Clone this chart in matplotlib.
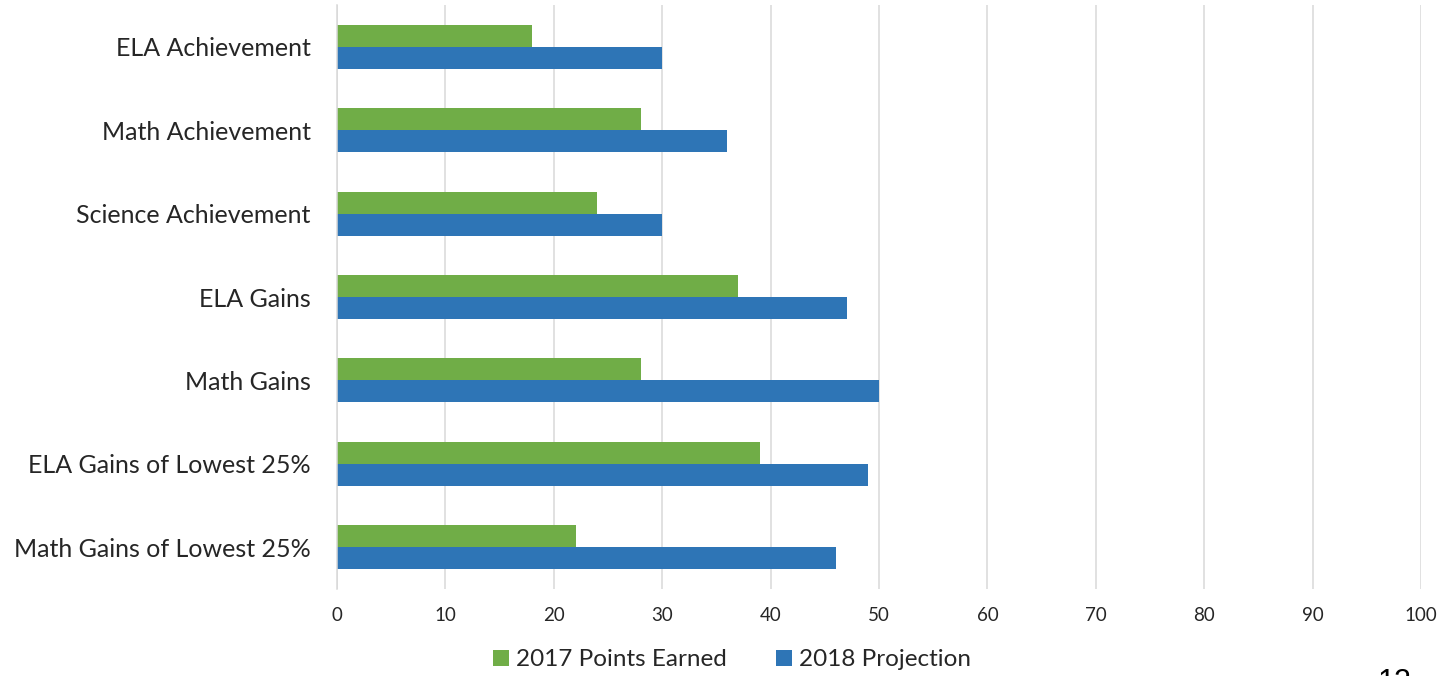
#!/usr/bin/env python3
"""Accountability points: 2017 earned vs 2018 projection, horizontal bars."""

import matplotlib

matplotlib.use("Agg")
import matplotlib.pyplot as plt
import numpy as np
from matplotlib.ticker import MultipleLocator

plt.rcParams["font.family"] = ["Lato", "DejaVu Sans"]

CATEGORIES = [
    "ELA Achievement",
    "Math Achievement",
    "Science Achievement",
    "ELA Gains",
    "Math Gains",
    "ELA Gains of Lowest 25%",
    "Math Gains of Lowest 25%",
]
POINTS_2017 = [18, 28, 24, 37, 28, 39, 22]
PROJECTION_2018 = [30, 36, 30, 47, 50, 49, 46]
SERIES_NAMES = ["2017 Points Earned", "2018 Projection"]

GREEN = "#70AD47"
BLUE = "#2E75B6"
GRID = "#D9D9D9"
TEXT = "#262626"

BAR_H = 0.264


def main():
    fig = plt.figure(figsize=(14.41, 6.76), dpi=100)
    ax = fig.add_axes([0.2339, 0.1287, 0.7523, 0.8639])

    y = np.arange(len(CATEGORIES))
    ax.barh(y - BAR_H / 2, POINTS_2017, height=BAR_H, color=GREEN,
            label=SERIES_NAMES[0], zorder=3)
    ax.barh(y + BAR_H / 2, PROJECTION_2018, height=BAR_H, color=BLUE,
            label=SERIES_NAMES[1], zorder=3)

    ax.set_ylim(len(CATEGORIES) - 0.5, -0.5)
    ax.set_xlim(0, 100)
    ax.set_yticks(y)
    ax.set_yticklabels(CATEGORIES, fontsize=18, color=TEXT)
    ax.xaxis.set_major_locator(MultipleLocator(10))
    ax.tick_params(axis="y", length=0, pad=19)
    ax.tick_params(axis="x", length=0, pad=13, labelsize=13.5, labelcolor=TEXT)
    ax.grid(axis="x", color=GRID, linewidth=1.1, zorder=0)

    for side in ("top", "right", "bottom"):
        ax.spines[side].set_visible(False)
    ax.spines["left"].set_color(GRID)
    ax.spines["left"].set_linewidth(1.1)
    ax.spines["left"].set_zorder(4)

    handles, labels = ax.get_legend_handles_labels()
    fig.legend(handles, labels, loc="center", bbox_to_anchor=(0.508, 0.024),
               ncol=2, frameon=False, fontsize=17.5, handlelength=0.65,
               handleheight=0.65, handletextpad=0.3, columnspacing=2.0,
               labelcolor=TEXT)

    # page number, cut off at the bottom edge as in the source slide
    fig.text(0.968, 0.012, "12", ha="center", va="top", fontsize=22,
             family="Liberation Sans", color="black")

    fig.savefig("out.png", dpi=100)
    plt.close(fig)


if __name__ == "__main__":
    main()
